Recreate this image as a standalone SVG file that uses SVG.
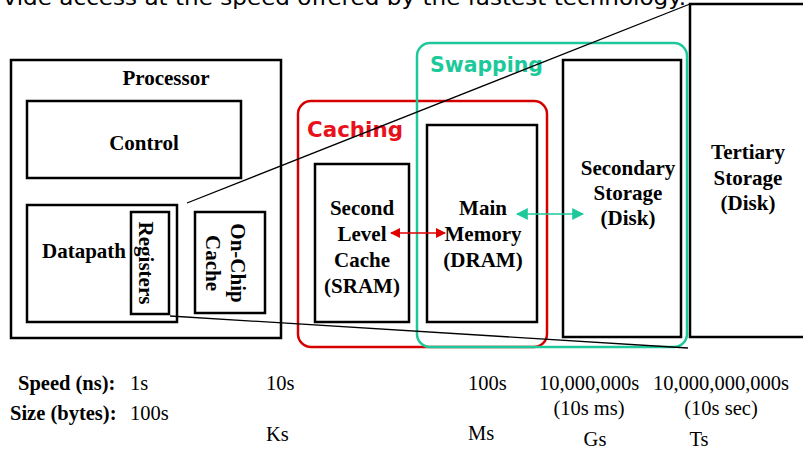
<svg xmlns="http://www.w3.org/2000/svg" width="803" height="450" viewBox="0 0 803 450">
<style>
.box{fill:none;stroke:#000;stroke-width:2.5}
.lbl{font-family:"Liberation Serif",serif;font-weight:bold;font-size:21px;fill:#000;text-anchor:middle}
.val{font-family:"Liberation Serif",serif;font-size:20.5px;fill:#000}
.hand{font-family:"DejaVu Sans",sans-serif;font-weight:bold;font-size:22px}
.thin{stroke:#000;stroke-width:1.3;fill:none}
</style>
<defs>
<marker id="ar" viewBox="0 0 10 10" refX="9" refY="5" markerWidth="10" markerHeight="10" markerUnits="userSpaceOnUse" orient="auto-start-reverse"><path d="M0,0 L10,5 L0,10 Z" fill="#e00000"/></marker>
<marker id="at" viewBox="0 0 10 10" refX="9" refY="5" markerWidth="12" markerHeight="12" markerUnits="userSpaceOnUse" orient="auto-start-reverse"><path d="M0,0 L10,5 L0,10 Z" fill="#1dc99b"/></marker>
</defs>
<rect width="803" height="450" fill="#fff"/>
<text x="3" y="5" class="hand" style="font-weight:normal;font-size:21px" fill="#000" textLength="683" lengthAdjust="spacingAndGlyphs">vide access at the speed offered by the fastest technology.</text>

<g id="processor">
<rect class="box" x="11" y="60" width="270" height="278"/>
<text class="lbl" x="166" y="85">Processor</text>
</g>
<g id="control">
<rect class="box" x="27" y="101" width="214" height="77"/>
<text class="lbl" x="144" y="150">Control</text>
</g>
<g id="datapath">
<rect class="box" x="27" y="205" width="150" height="117"/>
<text class="lbl" x="42" y="258" style="text-anchor:start">Datapath</text>
</g>
<g id="registers">
<rect class="box" x="131" y="212" width="38" height="102"/>
<text class="lbl" transform="translate(146,263) rotate(90)" x="0" y="7">Registers</text>
</g>
<g id="onchip">
<rect class="box" x="195" y="212" width="70" height="101"/>
<g transform="translate(230,263) rotate(90)">
<text class="lbl" x="0" y="-1">On-Chip</text>
<text class="lbl" x="0" y="24">Cache</text>
</g>
</g>
<g id="l2cache">
<rect class="box" x="315" y="164" width="94" height="158"/>
<text class="lbl" x="362" y="215">Second</text>
<text class="lbl" x="362" y="241">Level</text>
<text class="lbl" x="362" y="267">Cache</text>
<text class="lbl" x="362" y="293">(SRAM)</text>
</g>
<g id="mainmem">
<rect class="box" x="427" y="125" width="110" height="197"/>
<text class="lbl" x="483" y="215">Main</text>
<text class="lbl" x="483" y="241">Memory</text>
<text class="lbl" x="483" y="267">(DRAM)</text>
</g>
<g id="secondary">
<rect class="box" x="563" y="60" width="118" height="277"/>
<text class="lbl" x="628" y="175">Secondary</text>
<text class="lbl" x="628" y="200">Storage</text>
<text class="lbl" x="628" y="225">(Disk)</text>
</g>
<g id="tertiary">
<rect class="box" x="690" y="4" width="130" height="333"/>
<text class="lbl" x="748" y="159">Tertiary</text>
<text class="lbl" x="748" y="185">Storage</text>
<text class="lbl" x="748" y="210">(Disk)</text>
</g>
<g id="caching">
<rect x="298" y="101" width="249" height="246" rx="13" fill="none" stroke="#d40000" stroke-width="2.5"/>
<text class="hand" x="307" y="137" fill="#e8101a" textLength="96" lengthAdjust="spacingAndGlyphs">Caching</text>
</g>
<g id="swapping">
<rect x="417" y="43" width="270" height="304" rx="13" fill="none" stroke="#1dc99b" stroke-width="2.5"/>
<text class="hand" x="430" y="72" fill="#1dc99b" textLength="113" lengthAdjust="spacingAndGlyphs">Swapping</text>
</g>
<g id="connectors">
<line class="thin" x1="187" y1="203" x2="690" y2="4"/>
<line class="thin" x1="170" y1="316" x2="688" y2="348"/>
<line x1="391" y1="233" x2="445" y2="233" stroke="#e00000" stroke-width="1.5" marker-start="url(#ar)" marker-end="url(#ar)"/>
<line x1="517" y1="214" x2="583" y2="214" stroke="#1dc99b" stroke-width="1.5" marker-start="url(#at)" marker-end="url(#at)"/>
</g>
<g id="table">
<text class="val" x="18" y="390" style="font-weight:bold">Speed (ns):</text>
<text class="val" x="130" y="390">1s</text>
<text class="val" x="10" y="420" style="font-weight:bold">Size (bytes):</text>
<text class="val" x="130" y="420">100s</text>
<text class="val" x="266" y="390">10s</text>
<text class="val" x="266" y="441">Ks</text>
<text class="val" x="468" y="390">100s</text>
<text class="val" x="468" y="440">Ms</text>
<text class="val" x="589" y="390" style="text-anchor:middle">10,000,000s</text>
<text class="val" x="589" y="415" style="text-anchor:middle">(10s ms)</text>
<text class="val" x="595" y="446" style="text-anchor:middle">Gs</text>
<text class="val" x="721" y="390" style="text-anchor:middle">10,000,000,000s</text>
<text class="val" x="721" y="415" style="text-anchor:middle">(10s sec)</text>
<text class="val" x="699" y="446" style="text-anchor:middle">Ts</text>
</g>
</svg>
